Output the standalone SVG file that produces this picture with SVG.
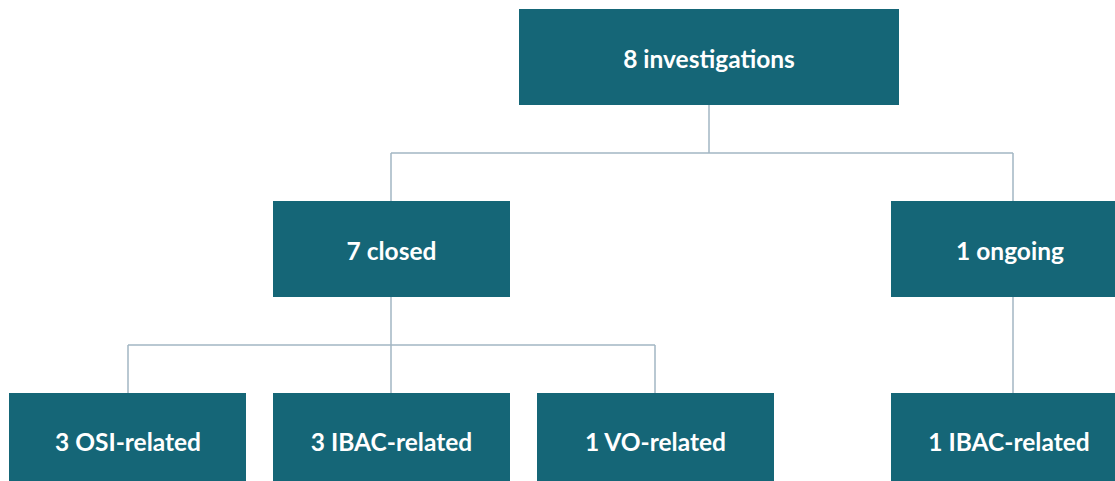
<svg xmlns="http://www.w3.org/2000/svg" width="1115" height="481" viewBox="0 0 1115 481">
<style>
.box{fill:#156677}
.lbl{fill:#ffffff;font-family:Lato,"Open Sans",sans-serif;font-weight:bold;font-size:24.5px;text-anchor:middle;dominant-baseline:central}
.conn{stroke:#a3b6c3;stroke-width:1.5;fill:none}
</style>
<rect width="1115" height="481" fill="#ffffff"/>
<g id="connectors">
<path class="conn" d="M709 105V153M391 153H1013M391 153V201M1013 153V201"/>
<path class="conn" d="M391 297V345M128 345H655M128 345V393M391 345V393M655 345V393"/>
<path class="conn" d="M1013 297V393"/>
</g>
<g id="n-root"><rect class="box" x="519" y="9" width="380" height="96"/><text class="lbl" x="709" y="58">8 investigations</text></g>
<g id="n-closed"><rect class="box" x="273" y="201" width="237" height="96"/><text class="lbl" x="391.5" y="250">7 closed</text></g>
<g id="n-ongoing"><rect class="box" x="891" y="201" width="224" height="96"/><text class="lbl" x="1010" y="250">1 ongoing</text></g>
<g id="n-osi"><rect class="box" x="9" y="393" width="237" height="88"/><text class="lbl" x="128" y="441">3 OSI-related</text></g>
<g id="n-ibac1"><rect class="box" x="273" y="393" width="237" height="88"/><text class="lbl" x="391.5" y="441">3 IBAC-related</text></g>
<g id="n-vo"><rect class="box" x="537" y="393" width="237" height="88"/><text class="lbl" x="655.5" y="441">1 VO-related</text></g>
<g id="n-ibac2"><rect class="box" x="891" y="393" width="224" height="88"/><text class="lbl" x="1009" y="441">1 IBAC-related</text></g>
</svg>
